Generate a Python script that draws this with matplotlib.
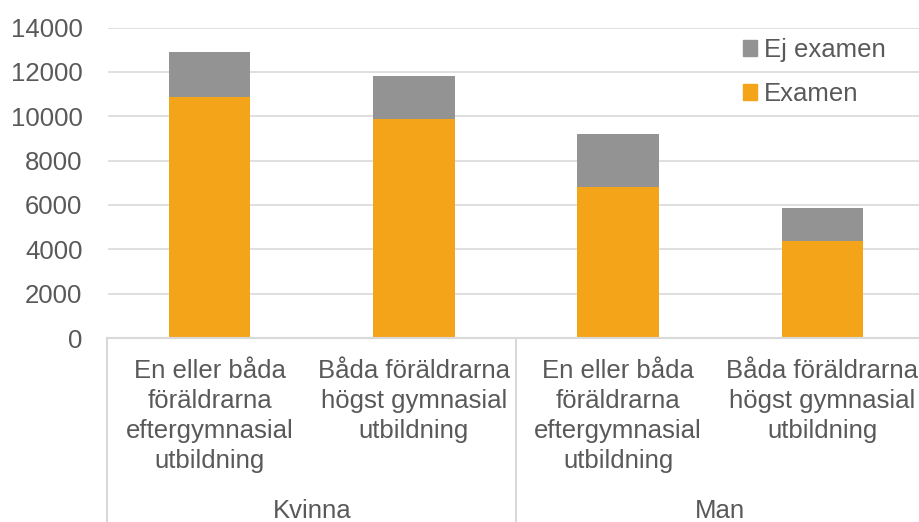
import matplotlib
matplotlib.use("Agg")
import matplotlib.pyplot as plt
import matplotlib.transforms as mtransforms
from matplotlib.patches import Patch
from matplotlib.lines import Line2D

# ---- data ----
groups = ["Kvinna", "Man"]
categories = [
    "En eller båda\nföräldrarna\neftergymnasial\nutbildning",
    "Båda föräldrarna\nhögst gymnasial\nutbildning",
    "En eller båda\nföräldrarna\neftergymnasial\nutbildning",
    "Båda föräldrarna\nhögst gymnasial\nutbildning",
]
examen = [10850, 9860, 6820, 4360]
ej_examen = [2030, 1970, 2380, 1520]
yticks = [0, 2000, 4000, 6000, 8000, 10000, 12000, 14000]

ORANGE = "#F4A419"
GRAY = "#939393"
GRID = "#D9D9D9"
TEXT = "#595959"

plt.rcParams["font.family"] = ["Liberation Sans", "DejaVu Sans"]
FS = 18.5

W, H = 919, 522
fig = plt.figure(figsize=(W / 100, H / 100), dpi=100)
left, right, top, bottom = 107.5, 924.5, 27.5, 338
ax = fig.add_axes([left / W, 1 - bottom / H, (right - left) / W, (bottom - top) / H])

x = list(range(len(categories)))
ax.bar(x, examen, width=0.4, color=ORANGE, zorder=3)
ax.bar(x, ej_examen, width=0.4, bottom=examen, color=GRAY, zorder=3)

ax.set_xlim(-0.5, len(categories) - 0.5)
ax.set_ylim(0, 14000)
ax.set_yticks(yticks)
ax.set_yticklabels([str(v) for v in yticks], fontsize=FS, color=TEXT)
ax.tick_params(axis="y", length=0, pad=18)
ax.set_xticks([])
ax.grid(axis="y", color=GRID, linewidth=1.2, zorder=0)
for side in ["left", "right", "top"]:
    ax.spines[side].set_visible(False)
ax.spines["bottom"].set_color(GRID)
ax.spines["bottom"].set_linewidth(1.5)
ax.spines["bottom"].set_zorder(4)

# two-level category axis below the plot
trans = mtransforms.blended_transform_factory(ax.transData, fig.transFigure)
for xi, lab in zip(x, categories):
    ax.text(xi, 1 - 359 / H, lab, transform=trans, ha="center", va="top",
            fontsize=FS, color=TEXT, linespacing=1.31)

n_per_group = len(categories) // len(groups)
for gi, g in enumerate(groups):
    cx = gi * n_per_group + (n_per_group - 1) / 2
    ax.text(cx, 1 - 518 / H, g, transform=trans, ha="center", va="baseline",
            fontsize=FS, color=TEXT)

for gi in range(len(groups) + 1):
    sx = gi * n_per_group - 0.5
    ax.add_line(Line2D([sx, sx], [1 - bottom / H, 0], transform=trans,
                       color=GRID, linewidth=1.5, clip_on=False))

handles = [Patch(color=GRAY), Patch(color=ORANGE)]
leg = ax.legend(handles, ["Ej examen", "Examen"], loc="upper left",
                bbox_to_anchor=(733 / W, 1 - 28 / H), bbox_transform=fig.transFigure,
                frameon=False, fontsize=FS, handlelength=0.55, handleheight=0.55,
                handletextpad=0.25, labelspacing=0.78, borderaxespad=0)
for t in leg.get_texts():
    t.set_color(TEXT)

fig.savefig("out.png", dpi=100)
